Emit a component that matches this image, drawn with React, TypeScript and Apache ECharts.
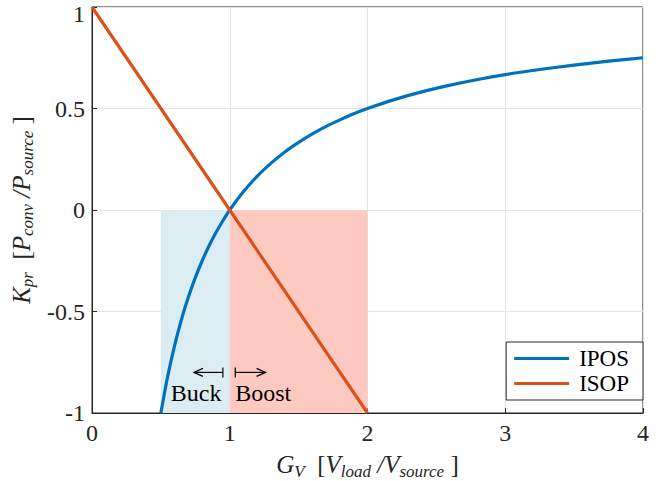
import React, { useEffect, useRef } from "react";
import * as echarts from "echarts";

const iposX = [0.5, 0.55, 0.6, 0.65, 0.7, 0.75, 0.8, 0.85, 0.9, 0.95, 1, 1.1, 1.2, 1.3, 1.4, 1.5, 1.6, 1.7, 1.8, 1.9, 2, 2.2, 2.4, 2.6, 2.8, 3, 3.25, 3.5, 3.75, 4];
const iposY = [-1, -0.818, -0.667, -0.538, -0.429, -0.333, -0.25, -0.176, -0.111, -0.053, 0, 0.091, 0.167, 0.231, 0.286, 0.333, 0.375, 0.412, 0.444, 0.474, 0.5, 0.545, 0.583, 0.615, 0.643, 0.667, 0.692, 0.714, 0.733, 0.75];
const isopX = [0, 1, 2];
const isopY = [1, 0, -1];
const buckRange = [0.5, 1];
const boostRange = [1, 2];
const shadeY = [-1, 0];
const xTicks = [0, 1, 2, 3, 4];
const yTicks = [-1, -0.5, 0, 0.5, 1];

const FONT = "Liberation Serif, Times New Roman, serif";
const BLUE = "#0072BD";
const ORANGE = "#D95319";

const richStyle = {
  i: { fontFamily: FONT, fontStyle: "italic", fontSize: 25, color: "#262626", lineHeight: 32, verticalAlign: "middle" },
  n: { fontFamily: FONT, fontSize: 25, color: "#262626", lineHeight: 32, verticalAlign: "middle" },
  s: { fontFamily: FONT, fontStyle: "italic", fontSize: 17, color: "#262626", lineHeight: 32, verticalAlign: "middle", padding: [13, 0, 0, 0] },
};

export default function App() {
  const ref = useRef<HTMLDivElement>(null);
  useEffect(() => {
    if (!ref.current) return;
    const chart = echarts.init(ref.current, undefined, { renderer: "svg" });
    const topY = yTicks[yTicks.length - 1];
    const option: any = {
      animation: false,
      backgroundColor: "#ffffff",
      textStyle: { fontFamily: FONT },
      grid: {
        left: 92, top: 7, right: 29, bottom: 68,
        containLabel: false, outerBoundsMode: "none",
        show: true, borderColor: "#262626", borderWidth: 1, backgroundColor: "transparent",
      },
      legend: {
        right: 29,
        top: 342,
        orient: "vertical",
        data: [
          { name: "IPOS", icon: "rect" },
          { name: "ISOP", icon: "rect" },
        ],
        itemWidth: 55,
        itemHeight: 3,
        itemGap: 2,
        padding: [5, 14, 5, 8],
        borderColor: "#262626",
        borderWidth: 1,
        backgroundColor: "#ffffff",
        textStyle: { fontFamily: FONT, fontSize: 23, color: "#000", padding: [0, 0, 0, 5] },
      },
      xAxis: {
        type: "value",
        min: xTicks[0],
        max: xTicks[xTicks.length - 1],
        interval: 1,
        name: "{i|G}{s|V}{n|  [}{i|V}{s|load}{i| /}{i|V}{s|source}{n| ]}",
        nameLocation: "middle",
        nameGap: 33,
        nameTextStyle: { rich: richStyle },
        axisLine: { onZero: false, lineStyle: { color: "#262626", width: 1 } },
        axisTick: { inside: true, length: 5, lineStyle: { color: "#262626" } },
        axisLabel: { fontFamily: FONT, fontSize: 24, color: "#262626", margin: 8 },
        splitLine: { show: true, lineStyle: { color: "#e3e3e3", width: 1 } },
      },
      yAxis: {
        type: "value",
        min: yTicks[0],
        max: topY,
        interval: 0.5,
        name: "{i|K}{s|pr}{n|  [}{i|P}{s|conv}{i| /}{i|P}{s|source}{n| ]}",
        nameLocation: "middle",
        nameGap: 49,
        nameRotate: 90,
        nameTextStyle: { rich: richStyle },
        axisLine: { onZero: false, lineStyle: { color: "#262626", width: 1 } },
        axisTick: { inside: true, length: 5, lineStyle: { color: "#262626" } },
        axisLabel: {
          fontFamily: FONT, fontSize: 24, lineHeight: 20, color: "#262626", margin: 7,
          formatter: (v: number) => (v === topY ? "{t|" + v + "}" : String(v)),
          rich: { t: { fontFamily: FONT, fontSize: 24, lineHeight: 20, color: "#262626", padding: [14, 0, 0, 0] } },
        },
        splitLine: { show: true, lineStyle: { color: "#e3e3e3", width: 1 } },
      },
      series: [
        {
          name: "shade",
          type: "line",
          data: [],
          z: 1,
          silent: true,
          markArea: {
            silent: true,
            data: [
              [{ xAxis: buckRange[0], yAxis: shadeY[0], itemStyle: { color: "#dbedf3", opacity: 1 } }, { xAxis: buckRange[1], yAxis: shadeY[1] }],
              [{ xAxis: boostRange[0], yAxis: shadeY[0], itemStyle: { color: "#fdc9c0", opacity: 1 } }, { xAxis: boostRange[1], yAxis: shadeY[1] }],
            ],
          },
        },
        {
          name: "IPOS",
          type: "line",
          z: 3,
          symbol: "none",
          smooth: 0.25,
          data: iposX.map((x, i) => [x, iposY[i]]),
          lineStyle: { color: BLUE, width: 3.2 },
          itemStyle: { color: BLUE },
        },
        {
          name: "ISOP",
          type: "line",
          z: 4,
          symbol: "none",
          data: isopX.map((x, i) => [x, isopY[i]]),
          lineStyle: { color: ORANGE, width: 3.2 },
          itemStyle: { color: ORANGE },
        },
      ],
    };
    chart.setOption(option);

    const p = (x: number, y: number) => chart.convertToPixel({ gridIndex: 0 }, [x, y]) as number[];
    const a1 = p(0.74, -0.8);
    const b1 = p(0.95, -0.8);
    const a2 = p(1.04, -0.8);
    const b2 = p(1.26, -0.8);
    const buckPos = p(0.94, -0.9);
    const boostPos = p(1.04, -0.9);
    const ls = { stroke: "#000", lineWidth: 1.2, fill: "none" };
    chart.setOption({
      graphic: [
        { type: "line", shape: { x1: a1[0], y1: a1[1], x2: b1[0], y2: b1[1] }, style: ls, z: 10 },
        { type: "line", shape: { x1: b1[0], y1: a1[1] - 5, x2: b1[0], y2: a1[1] + 5 }, style: ls, z: 10 },
        { type: "polyline", shape: { points: [[a1[0] + 9, a1[1] - 4], [a1[0], a1[1]], [a1[0] + 9, a1[1] + 4]] }, style: ls, z: 10 },
        { type: "line", shape: { x1: a2[0], y1: a2[1], x2: b2[0], y2: b2[1] }, style: ls, z: 10 },
        { type: "line", shape: { x1: a2[0], y1: a2[1] - 5, x2: a2[0], y2: a2[1] + 5 }, style: ls, z: 10 },
        { type: "polyline", shape: { points: [[b2[0] - 9, b2[1] - 4], [b2[0], b2[1]], [b2[0] - 9, b2[1] + 4]] }, style: ls, z: 10 },
        { type: "text", x: buckPos[0], y: buckPos[1], z: 10, style: { text: "Buck", fontFamily: FONT, fontSize: 24, fill: "#000", align: "right", verticalAlign: "middle" } },
        { type: "text", x: boostPos[0], y: boostPos[1], z: 10, style: { text: "Boost", fontFamily: FONT, fontSize: 24, fill: "#000", align: "left", verticalAlign: "middle" } },
      ],
    });
    return () => chart.dispose();
  }, []);
  return <div ref={ref} style={{ width: 672, height: 481, position: "absolute", left: 0, top: 0 }} />;
}
